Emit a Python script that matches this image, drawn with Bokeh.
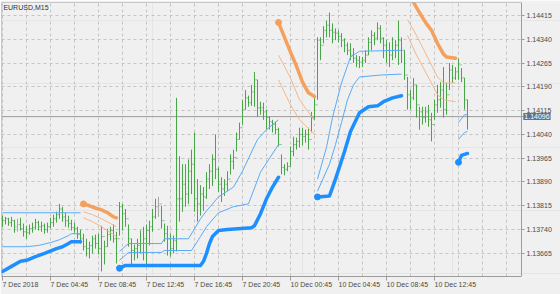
import numpy as np
from bokeh.plotting import figure
from bokeh.models import Range1d, FixedTicker, Label, PrintfTickFormatter, LinearAxis, Grid
from bokeh.embed import file_html
from bokeh.resources import INLINE

# ---------------- data ----------------
chart_title = "EURUSD,M15"
x_tick_idx = [0, 16, 32, 48, 64, 80, 96, 112, 128, 144]
x_tick_labels = ["7 Dec 2018", "7 Dec 04:45", "7 Dec 08:45", "7 Dec 12:45", "7 Dec 16:45",
                 "7 Dec 20:45", "10 Dec 00:45", "10 Dec 04:45", "10 Dec 08:45", "10 Dec 12:45"]
y_ticks = [1.13665, 1.13740, 1.13815, 1.13890, 1.13965, 1.14040, 1.14115, 1.14190, 1.14265, 1.14340, 1.14415]
bid_price = 1.14096
first_open = 1.13775
gray_bars = [5, 52]

high = [1.13784, 1.13780, 1.13777, 1.13780, 1.13771, 1.13774, 1.13777, 1.13759, 1.13752, 1.13756,
        1.13762, 1.13774, 1.13768, 1.13765, 1.13759, 1.13762, 1.13777, 1.13787, 1.13796, 1.13821,
        1.13812, 1.13793, 1.13784, 1.13771, 1.13762, 1.13749, 1.13740, 1.13727, 1.13711, 1.13702,
        1.13721, 1.13724, 1.13727, 1.13752, 1.13705, 1.13743, 1.13749, 1.13756, 1.13733, 1.13827,
        1.13821, 1.13805, 1.13756, 1.13711, 1.13693, 1.13711, 1.13737, 1.13749, 1.13756, 1.13768,
        1.13805, 1.13837, 1.13843, 1.13815, 1.13759, 1.13752, 1.13727, 1.13721, 1.14155, 1.13971,
        1.13946, 1.13946, 1.13961, 1.13992, 1.14046, 1.13899, 1.13880, 1.13874, 1.13921, 1.13946,
        1.13977, 1.14040, 1.13936, 1.13905, 1.13899, 1.13924, 1.13977, 1.13992, 1.14046, 1.14077,
        1.14149, 1.14180, 1.14162, 1.14196, 1.14237, 1.14212, 1.14143, 1.14140, 1.14118, 1.14096,
        1.14086, 1.14080, 1.14061, 1.13977, 1.13946, 1.13952, 1.14002, 1.14033, 1.14030, 1.14061,
        1.14061, 1.14055, 1.14061, 1.14111, 1.14159, 1.14346, 1.14346, 1.14381, 1.14399, 1.14424,
        1.14390, 1.14374, 1.14368, 1.14359, 1.14343, 1.14330, 1.14327, 1.14312, 1.14290, 1.14287,
        1.14284, 1.14305, 1.14346, 1.14368, 1.14362, 1.14393, 1.14384, 1.14346, 1.14337, 1.14330,
        1.14346, 1.14337, 1.14399, 1.14346, 1.14305, 1.14221, 1.14180, 1.14218, 1.14196, 1.14127,
        1.14127, 1.14127, 1.14133, 1.14108, 1.14149, 1.14196, 1.14205, 1.14252, 1.14202, 1.14265,
        1.14259, 1.14252, 1.14280, 1.14249, 1.14218, 1.14149]
low = [1.13749, 1.13756, 1.13752, 1.13749, 1.13730, 1.13733, 1.13737, 1.13718, 1.13711, 1.13724,
       1.13730, 1.13740, 1.13737, 1.13733, 1.13727, 1.13730, 1.13743, 1.13749, 1.13762, 1.13774,
       1.13765, 1.13749, 1.13746, 1.13737, 1.13730, 1.13711, 1.13696, 1.13674, 1.13655, 1.13649,
       1.13665, 1.13680, 1.13662, 1.13608, 1.13630, 1.13686, 1.13705, 1.13699, 1.13633, 1.13721,
       1.13737, 1.13749, 1.13686, 1.13630, 1.13643, 1.13649, 1.13665, 1.13643, 1.13630, 1.13690,
       1.13733, 1.13774, 1.13780, 1.13743, 1.13702, 1.13658, 1.13655, 1.13665, 1.13671, 1.13765,
       1.13796, 1.13812, 1.13821, 1.13852, 1.13796, 1.13765, 1.13784, 1.13799, 1.13837, 1.13868,
       1.13877, 1.13899, 1.13858, 1.13827, 1.13846, 1.13861, 1.13914, 1.13930, 1.13986, 1.14024,
       1.14071, 1.14118, 1.14127, 1.14130, 1.14127, 1.14096, 1.14102, 1.14086, 1.14055, 1.14055,
       1.14046, 1.14040, 1.14002, 1.13914, 1.13911, 1.13924, 1.13939, 1.13971, 1.13992, 1.13999,
       1.14005, 1.14014, 1.13992, 1.14046, 1.14086, 1.14149, 1.14274, 1.14327, 1.14346, 1.14346,
       1.14327, 1.14337, 1.14330, 1.14315, 1.14299, 1.14290, 1.14274, 1.14265, 1.14252, 1.14249,
       1.14252, 1.14265, 1.14290, 1.14305, 1.14321, 1.14337, 1.14327, 1.14280, 1.14265, 1.14252,
       1.14274, 1.14280, 1.14259, 1.14265, 1.14212, 1.14118, 1.14118, 1.14149, 1.14093, 1.14055,
       1.14071, 1.14077, 1.14064, 1.14018, 1.14086, 1.14108, 1.14124, 1.14093, 1.14102, 1.14180,
       1.14202, 1.14212, 1.14212, 1.14205, 1.14118, 1.14055]
close = [1.13768, 1.13774, 1.13762, 1.13768, 1.13749, 1.13756, 1.13743, 1.13733, 1.13730, 1.13743,
         1.13746, 1.13762, 1.13749, 1.13752, 1.13740, 1.13749, 1.13762, 1.13774, 1.13787, 1.13805,
         1.13780, 1.13768, 1.13759, 1.13746, 1.13743, 1.13724, 1.13711, 1.13686, 1.13680, 1.13690,
         1.13711, 1.13696, 1.13680, 1.13718, 1.13686, 1.13724, 1.13737, 1.13711, 1.13711, 1.13812,
         1.13790, 1.13774, 1.13711, 1.13674, 1.13680, 1.13690, 1.13696, 1.13711, 1.13737, 1.13749,
         1.13780, 1.13812, 1.13821, 1.13768, 1.13727, 1.13711, 1.13680, 1.13705, 1.13837, 1.13837,
         1.13883, 1.13852, 1.13924, 1.13946, 1.13837, 1.13821, 1.13852, 1.13843, 1.13899, 1.13924,
         1.13961, 1.13930, 1.13883, 1.13868, 1.13883, 1.13899, 1.13955, 1.13967, 1.14024, 1.14061,
         1.14118, 1.14155, 1.14140, 1.14174, 1.14212, 1.14124, 1.14124, 1.14111, 1.14093, 1.14080,
         1.14071, 1.14055, 1.14008, 1.13936, 1.13930, 1.13939, 1.13986, 1.14008, 1.14018, 1.14040,
         1.14033, 1.14040, 1.14024, 1.14093, 1.14133, 1.14337, 1.14321, 1.14368, 1.14384, 1.14368,
         1.14362, 1.14359, 1.14349, 1.14337, 1.14321, 1.14305, 1.14290, 1.14280, 1.14274, 1.14268,
         1.14274, 1.14290, 1.14330, 1.14352, 1.14343, 1.14374, 1.14343, 1.14321, 1.14305, 1.14290,
         1.14305, 1.14321, 1.14337, 1.14305, 1.14227, 1.14165, 1.14155, 1.14196, 1.14133, 1.14111,
         1.14093, 1.14111, 1.14086, 1.14071, 1.14133, 1.14149, 1.14180, 1.14118, 1.14165, 1.14243,
         1.14218, 1.14237, 1.14259, 1.14218, 1.14149, 1.14096]

# indicator segments (bar index, price)
blue_thick = [
    ([0, 3, 6, 8, 11, 14, 18, 20, 22, 23, 26],
     [1.13608, 1.13624, 1.13640, 1.13643, 1.13655, 1.13665, 1.13680, 1.13686, 1.13696, 1.13702, 1.13702]),
    ([39, 41, 66, 67, 68, 69, 70, 72, 75, 83, 84, 86, 88, 90, 92],
     [1.13618, 1.13627, 1.13627, 1.13640, 1.13665, 1.13696, 1.13718, 1.13737, 1.13740, 1.13746, 1.13752,
      1.13790, 1.13837, 1.13874, 1.13905]),
    ([105, 109, 111, 114, 116, 119, 122, 125, 127, 130, 133],
     [1.13843, 1.13846, 1.13899, 1.13986, 1.14049, 1.14108, 1.14127, 1.14130, 1.14143, 1.14155, 1.14162]),
    ([152, 153, 155], [1.13952, 1.13974, 1.13980]),
]
blue_thin = [
    ([0, 26], [1.13793, 1.13793]),
    ([0, 8, 12, 16, 19, 22, 23, 26],
     [1.13686, 1.13686, 1.13690, 1.13699, 1.13708, 1.13721, 1.13727, 1.13727]),
    ([39, 42, 53, 54, 62, 66, 68, 72, 77, 80, 85, 88, 92],
     [1.13671, 1.13696, 1.13696, 1.13711, 1.13711, 1.13774, 1.13799, 1.13843, 1.13874, 1.13924, 1.14024,
      1.14055, 1.14086]),
    ([39, 42, 53, 54, 63, 66, 68, 72, 77, 82, 86, 92],
     [1.13643, 1.13668, 1.13668, 1.13674, 1.13674, 1.13718, 1.13749, 1.13793, 1.13812, 1.13821, 1.13921,
      1.14008]),
    ([105, 108, 110, 113, 116, 119, 133],
     [1.13899, 1.13999, 1.14093, 1.14202, 1.14284, 1.14302, 1.14305]),
    ([105, 109, 111, 113, 115, 117, 119, 126, 133],
     [1.13861, 1.13946, 1.14008, 1.14077, 1.14149, 1.14196, 1.14221, 1.14227, 1.14230]),
    ([152, 154, 155], [1.14077, 1.14102, 1.14102]),
    ([152, 154, 155], [1.14024, 1.14046, 1.14049]),
]
orange_thick = [
    ([27, 29, 31, 33, 35, 37, 38], [1.13821, 1.13815, 1.13808, 1.13802, 1.13793, 1.13780, 1.13777]),
    ([92, 94, 96, 98, 100, 102, 104], [1.14393, 1.14346, 1.14299, 1.14255, 1.14205, 1.14171, 1.14159]),
    ([134, 137, 139, 141, 143, 145, 147, 148, 151],
     [1.14495, 1.14456, 1.14424, 1.14393, 1.14368, 1.14327, 1.14293, 1.14284, 1.14280]),
]
orange_thin = [
    ([27, 30, 33, 36, 38], [1.13796, 1.13787, 1.13774, 1.13759, 1.13749]),
    ([27, 30, 33, 36, 38], [1.13777, 1.13765, 1.13749, 1.13730, 1.13718]),
    ([92, 96, 99, 104], [1.14290, 1.14218, 1.14149, 1.14083]),
    ([92, 96, 99, 104], [1.14212, 1.14133, 1.14086, 1.14040]),
    ([135, 138, 141, 145, 147, 151], [1.14402, 1.14352, 1.14296, 1.14221, 1.14202, 1.14202]),
    ([135, 138, 141, 145, 147, 151], [1.14352, 1.14290, 1.14237, 1.14165, 1.14149, 1.14143]),
]
blue_dot_segments = [1, 2, 3]
orange_dot_segments = [0, 1]

# ---------------- styling ----------------
FONT = "Liberation Sans"
BG = "#f0f0f0"
GRID = "#c4c4c4"
FRAME = "#9c9c9c"
TEXT = "#4a4a4a"
BAR = "#45a545"
BAR_GRAY = "#a8a8a8"
BLUE = "#1e8fff"
BLUE_THIN = "#5aaaf7"
ORANGE = "#f5a05c"
ORANGE_THIN = "#f6b689"

# chart area spans bar slots -0.33 .. 173 ; the price scale sits to the right of it
X_START, X_BORDER, X_END = -0.333, 173.0, 186.0
y0, y1 = 1.135921, 1.144557

p = figure(width=560, height=294, output_backend="svg", toolbar_location=None,
           x_range=Range1d(X_START, X_END), y_range=Range1d(y0, y1),
           x_axis_location=None, y_axis_location=None,
           min_border_left=1, min_border_top=2, min_border_right=0, min_border_bottom=16,
           background_fill_color=BG, border_fill_color=BG)
p.outline_line_color = None

# right price scale, pinned at the chart's right border
yaxis = LinearAxis(ticker=FixedTicker(ticks=y_ticks), formatter=PrintfTickFormatter(format="%.5f"),
                   fixed_location=X_BORDER)
yaxis.axis_line_color = FRAME
yaxis.major_tick_line_color = FRAME
yaxis.major_tick_out = 3
yaxis.major_tick_in = 0
yaxis.minor_tick_line_color = None
yaxis.major_label_standoff = 2
yaxis.major_label_text_font = FONT
yaxis.major_label_text_font_size = "7px"
yaxis.major_label_text_color = TEXT
p.add_layout(yaxis, "right")

# bottom time axis: labels start at the tick (left aligned via a tiny negative orientation)
xaxis = LinearAxis(ticker=FixedTicker(ticks=x_tick_idx), bounds=(X_START, X_BORDER),
                   major_label_overrides={t: lab for t, lab in zip(x_tick_idx, x_tick_labels)})
xaxis.axis_line_color = FRAME
xaxis.major_tick_line_color = FRAME
xaxis.major_tick_out = 4
xaxis.major_tick_in = 0
xaxis.minor_tick_line_color = None
xaxis.major_label_orientation = -1e-6
xaxis.major_label_standoff = 4
xaxis.major_label_text_font = FONT
xaxis.major_label_text_font_size = "7px"
xaxis.major_label_text_color = TEXT
p.add_layout(xaxis, "below")

# top and left border lines of the chart window
top_border = LinearAxis(ticker=FixedTicker(ticks=[]), fixed_location=y1, bounds=(X_START, X_BORDER),
                        axis_line_color=FRAME, major_tick_line_color=None, minor_tick_line_color=None,
                        major_label_text_font_size="0px")
p.add_layout(top_border, "above")
left_border = LinearAxis(ticker=FixedTicker(ticks=[]), fixed_location=X_START,
                         axis_line_color=FRAME, major_tick_line_color=None, minor_tick_line_color=None,
                         major_label_text_font_size="0px")
p.add_layout(left_border, "left")

# grid
p.add_layout(Grid(dimension=0, ticker=FixedTicker(ticks=list(range(0, 176, 8))),
                  grid_line_color=GRID, grid_line_dash="3 3"))
try:
    p.add_layout(Grid(dimension=1, ticker=FixedTicker(ticks=y_ticks), cross_bounds=(X_START, X_BORDER),
                      grid_line_color=GRID, grid_line_dash="3 3"))
except Exception:
    p.segment(x0=[X_START] * len(y_ticks), y0=y_ticks, x1=[X_BORDER] * len(y_ticks), y1=y_ticks,
              line_color=GRID, line_dash="3 3", line_width=1)

# bid line
p.line([X_START, X_BORDER + 0.6], [bid_price, bid_price], line_color="#9a9a9a", line_width=1)

# bars
n = len(close)
xs = np.arange(n)
opn = [first_open] + close[:-1]
colors = [BAR_GRAY if i in gray_bars else BAR for i in range(n)]
p.segment(x0=xs, y0=low, x1=xs, y1=high, line_color=colors, line_width=1)
p.segment(x0=xs - 0.34, y0=opn, x1=xs, y1=opn, line_color=colors, line_width=1)
p.segment(x0=xs, y0=close, x1=xs + 0.34, y1=close, line_color=colors, line_width=1)

# indicator lines
for sx, sy in blue_thin:
    p.line(sx, sy, line_color=BLUE_THIN, line_width=1)
for sx, sy in orange_thin:
    p.line(sx, sy, line_color=ORANGE_THIN, line_width=1)
for sx, sy in blue_thick:
    p.line(sx, sy, line_color=BLUE, line_width=3.5, line_join="round", line_cap="round")
for sx, sy in orange_thick:
    p.line(sx, sy, line_color=ORANGE, line_width=3.5, line_join="round", line_cap="round")
p.scatter([blue_thick[k][0][0] for k in blue_dot_segments],
          [blue_thick[k][1][0] for k in blue_dot_segments], size=6, color=BLUE)
p.scatter([orange_thick[k][0][0] for k in orange_dot_segments],
          [orange_thick[k][1][0] for k in orange_dot_segments], size=6, color=ORANGE)

# texts
px_per_unit = 276 / (y1 - y0)
p.add_layout(Label(x=0.3, y=y1 - 2 / px_per_unit, text=chart_title, text_baseline="top",
                   text_align="left", text_font=FONT, text_font_size="7px", text_color="#303030"))
p.add_layout(Label(x=X_BORDER + 0.6, y=bid_price, text=f"{bid_price:.5f}", text_baseline="middle",
                   text_align="left", text_font=FONT, text_font_size="7px", text_color="white",
                   background_fill_color="#5a7594", padding=1))

open("out.html", "w").write(file_html(p, INLINE))
